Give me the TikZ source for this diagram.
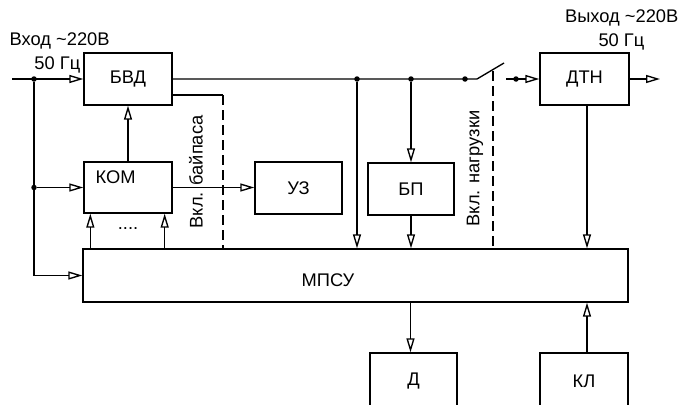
\documentclass[tikz,border=0pt]{standalone}
\usepackage{fontspec}
\setmainfont{Liberation Sans}
\usetikzlibrary{arrows.meta,positioning}
\tikzset{>={Triangle[open,length=14pt,width=8pt]},
         blok/.style={draw, minimum width=88pt, minimum height=52pt, inner sep=0pt},
         tochka/.style={circle, fill, inner sep=0pt, minimum size=5.5pt},
         nadp/.style={inner sep=0pt},
         upr/.style={dash pattern=on 10pt off 5pt}}

\begin{document}
\begin{tikzpicture}[x=1pt,y=-1pt,line width=1.35pt,font=\fontsize{18.3}{22}\selectfont]
	  \useasboundingbox (0,0) rectangle (682,404);
	  \clip (0,0) rectangle (682,404);
	  % bloki
	  \node[blok] (bvd) at (128,79) {БВД};
	  \node[blok, minimum height=51pt] (kom) at (128,187.5) {};
	  \node[blok, minimum width=87pt] (uz) at (298.5,188) {УЗ};
	  \node[blok, minimum width=86pt] (bp) at (411,189) {БП};
	  \node[blok, minimum width=89pt] (dtn) at (584.5,79) {ДТН};
	  \node[blok, minimum width=545pt, minimum height=53pt] (mpsu) at (355.5,275.5) {};
	  \node[blok, minimum width=87pt, minimum height=56pt] (d) at (413.5,381) {Д};
	  \node[blok, minimum height=56pt] (kl) at (584,381) {КЛ};
	  % nadpisi
	  \node[nadp, anchor=base west] (kom-t) at (95,183) {КОМ};
	  \node[nadp] (mpsu-t) at (328,280) {МПСУ};
	  \node[nadp] (kdots) at (128,229) {....};
	  \node[nadp, anchor=base west] (vhod) at (9,46) {Вход \textasciitilde220В};
	  \node[nadp, anchor=base east] (vhod-f) at (81,70) {50 Гц};
	  \node[nadp, anchor=base east] (vyhod) at (679,23) {Выход \textasciitilde220В};
	  \node[nadp, anchor=base east] (vyhod-f) at (645,47) {50 Гц};
	  \node[nadp, rotate=90] (baip) at (196,172) {Вкл. байпаса};
	  \node[nadp, rotate=90] (nagr) at (475,168.5) {Вкл. нагрузки};
	  % uzly
	  \coordinate (vh) at (12,79);
	  \node[tochka] (j1) at (34,79) {};
	  \node[tochka] (j2) at (34,187.5) {};
	  \node[tochka] (j3) at (357,79) {};
	  \node[tochka] (j4) at (411,79) {};
	  \node[tochka] (j5) at (465,79) {};
	  \coordinate (k1) at (477,79);
	  \coordinate (k2) at (504,63);
	  \coordinate (k3) at (506,79);
	  \node[tochka] (j6) at (516,79) {};
	  \coordinate (vyh) at (660,79);
	  \coordinate (bp1) at (223,95);
	  \coordinate (ng) at (493,71);
	  % svyazi
	  \draw[->] (vh) -- (bvd.west);
	  \draw[->] (j1) |- (mpsu.west);
	  \draw[->] (j2) -- (kom.west);
	  \draw[->] (kom) -- (bvd);
	  \draw[->] (kom.east) -- (kom.east -| uz.west);
	  \draw[->] ([xshift=7pt]kom.south west |- mpsu.north) -- ([xshift=7pt]kom.south west);
	  \draw[->] ([xshift=-8pt]kom.south east |- mpsu.north) -- ([xshift=-8pt]kom.south east);
	  \draw (bvd.east) -- (k1) -- (k2);
	  \draw[->] (k3) -- (dtn.west);
	  \draw[->] (dtn.east) -- (vyh);
	  \draw[->] (j3) -- (j3 |- mpsu.north);
	  \draw[->] (j4) -- (bp);
	  \draw[->] (bp.south) -- (bp.south |- mpsu.north);
	  \draw[->] ([xshift=2.5pt]dtn.south) -- ([xshift=2.5pt]dtn.south |- mpsu.north);
	  \draw[->] ([xshift=-3pt]d.north |- mpsu.south) -- ([xshift=-3pt]d.north);
	  \draw[->] ([xshift=3pt]kl.north) -- ([xshift=3pt]kl.north |- mpsu.south);
	  \draw (bvd.east |- bp1) -- (bp1);
	  \draw[upr] (bp1) -- (bp1 |- mpsu.north);
	  \draw[upr] (ng) -- (ng |- mpsu.north);
	\end{tikzpicture}
\end{document}
